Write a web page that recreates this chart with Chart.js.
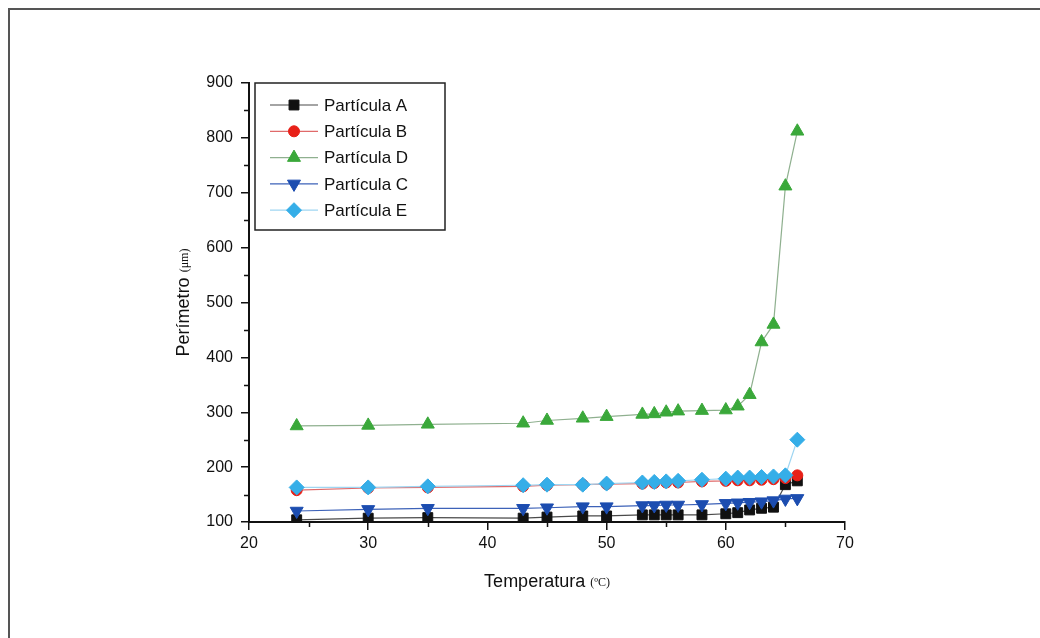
<!DOCTYPE html>
<html>
<head>
<meta charset="utf-8">
<script src="https://cdn.jsdelivr.net/npm/chart.js@4"></script>
<style>
  html, body { margin: 0; padding: 0; background: #fff; }
  #wrap { width: 1040px; height: 638px; }
</style>
</head>
<body>
<div id="wrap"><canvas id="chart" width="1040" height="638"></canvas></div>
<script>
// temperatures (ºC)
var temps = [24, 30, 35, 43, 45, 48, 50, 53, 54, 55, 56, 58, 60, 61, 62, 63, 64, 65, 66];

var particulaA = [104, 107, 108, 107, 109, 111, 111, 113, 113, 113, 113, 113, 115, 117, 122, 125, 127, 168, 175];
var particulaB = [158, 162, 163, 165, 167, 168, 169, 170, 171, 172, 172, 174, 175, 176, 176, 177, 178, 180, 185];
var particulaD = [275, 276, 278, 280, 285, 289, 292, 296, 297, 300, 302, 303, 304, 311, 332, 428, 460, 712, 812];
var particulaC = [120, 123, 125, 125, 126, 128, 128, 130, 130, 131, 131, 132, 134, 135, 136, 137, 139, 142, 143];
var particulaE = [163, 163, 165, 167, 168, 168, 170, 172, 173, 174, 175, 177, 179, 181, 181, 182, 183, 185, 250];

var yTicks = [100, 200, 300, 400, 500, 600, 700, 800, 900];
var xTicks = [20, 30, 40, 50, 60, 70];

function pts(vals) {
  return temps.map(function (t, i) { return { x: t, y: vals[i] }; });
}

var series = [
  { label: 'Partícula A', data: particulaA, line: '#4a4a4a', fill: '#111111', style: 'rect', r: 7, rot: 0 },
  { label: 'Partícula B', data: particulaB, line: '#e06a6a', fill: '#e82018', style: 'circle', r: 5.5, rot: 0 },
  { label: 'Partícula D', data: particulaD, line: '#8fb08f', fill: '#3aa83a', style: 'triangle', r: 7.5, rot: 0 },
  { label: 'Partícula C', data: particulaC, line: '#3d62b8', fill: '#1c4db0', style: 'triangle', r: 7.5, rot: 180 },
  { label: 'Partícula E', data: particulaE, line: '#9fd6f2', fill: '#35aee8', style: 'rectRot', r: 7.5, rot: 0 }
];

var FONT = '"Liberation Sans", Arial, sans-serif';

var extras = {
  id: 'extras',
  beforeDraw: function (chart) {
    var ctx = chart.ctx;
    ctx.save();
    ctx.fillStyle = '#fff';
    ctx.fillRect(0, 0, chart.width, chart.height);
    // outer frame (top and left only)
    ctx.strokeStyle = '#555';
    ctx.lineWidth = 2;
    ctx.beginPath();
    ctx.moveTo(9, chart.height);
    ctx.lineTo(9, 9);
    ctx.lineTo(chart.width, 9);
    ctx.stroke();
    ctx.restore();
  },
  afterDraw: function (chart) {
    var ctx = chart.ctx, x = chart.scales.x, y = chart.scales.y, a = chart.chartArea;
    ctx.save();
    ctx.strokeStyle = '#111';
    ctx.lineWidth = 1.5;
    // minor ticks
    ctx.beginPath();
    for (var v = 150; v < 900; v += 100) {
      var py = Math.round(y.getPixelForValue(v)) + 0.5;
      ctx.moveTo(a.left - 5, py); ctx.lineTo(a.left, py);
    }
    for (var u = 25; u < 70; u += 10) {
      var px = Math.round(x.getPixelForValue(u)) + 0.5;
      ctx.moveTo(px, a.bottom); ctx.lineTo(px, a.bottom + 5);
    }
    ctx.stroke();

    // axis titles with smaller unit text
    ctx.fillStyle = '#111';
    ctx.textBaseline = 'alphabetic';
    var main = '18px ' + FONT, small = '12px "Liberation Serif", serif';
    ctx.font = main; var w1 = ctx.measureText('Temperatura ').width;
    ctx.font = small; var w2 = ctx.measureText('(ºC)').width;
    var cx = (a.left + a.right) / 2, sx = cx - (w1 + w2) / 2;
    ctx.font = main; ctx.textAlign = 'left'; ctx.fillText('Temperatura ', sx, 587);
    ctx.font = small; ctx.fillText('(ºC)', sx + w1, 586);

    ctx.save();
    ctx.translate(189, (a.top + a.bottom) / 2);
    ctx.rotate(-Math.PI / 2);
    ctx.font = main; w1 = ctx.measureText('Perímetro ').width;
    ctx.font = small; w2 = ctx.measureText('(μm)').width;
    sx = -(w1 + w2) / 2;
    ctx.font = main; ctx.fillText('Perímetro ', sx, 0);
    ctx.font = small; ctx.fillText('(μm)', sx + w1, -1);
    ctx.restore();

    // legend box inside plot
    var lx = a.left + 6, ly = a.top, lw = 190, lh = 147;
    ctx.lineWidth = 1.5;
    ctx.strokeStyle = '#222';
    ctx.fillStyle = '#fff';
    ctx.fillRect(lx, ly, lw, lh);
    ctx.strokeRect(lx, ly, lw, lh);
    series.forEach(function (s, i) {
      var yy = ly + 22 + i * 26.3;
      ctx.strokeStyle = s.line; ctx.lineWidth = 1.2;
      ctx.beginPath(); ctx.moveTo(lx + 15, yy); ctx.lineTo(lx + 63, yy); ctx.stroke();
      ctx.fillStyle = s.fill; ctx.strokeStyle = s.fill; ctx.lineWidth = 1;
      Chart.helpers.drawPoint(ctx, { pointStyle: s.style, radius: s.r, rotation: s.rot, borderWidth: 1 }, lx + 39, yy);
      ctx.fillStyle = '#111';
      ctx.font = '17px ' + FONT; ctx.textAlign = 'left'; ctx.textBaseline = 'middle';
      ctx.fillText(s.label, lx + 69, yy + 1);
    });
    ctx.restore();
  }
};

new Chart(document.getElementById('chart').getContext('2d'), {
  type: 'line',
  data: {
    datasets: series.map(function (s, i) {
      return {
        label: s.label,
        data: pts(s.data),
        order: series.length - i,
        borderColor: s.line,
        borderWidth: 1.2,
        backgroundColor: s.fill,
        pointBackgroundColor: s.fill,
        pointBorderColor: s.fill,
        pointBorderWidth: 1,
        pointStyle: s.style,
        pointRotation: s.rot,
        pointRadius: s.r,
        tension: 0
      };
    })
  },
  options: {
    responsive: false,
    animation: false,
    layout: { padding: { left: 0, top: 83, right: 195, bottom: 0 } },
    plugins: { legend: { display: false }, tooltip: { enabled: false } },
    scales: {
      x: {
        type: 'linear', min: 20, max: 70,
        afterBuildTicks: function (sc) { sc.ticks = xTicks.map(function (v) { return { value: v }; }); },
        afterFit: function (sc) { sc.height = 116; },
        grid: { drawOnChartArea: false, tickLength: 8, color: '#111', lineWidth: 1.5 },
        border: { color: '#111', width: 2 },
        ticks: { color: '#111', font: { family: FONT, size: 16 }, padding: 4, maxRotation: 0 }
      },
      y: {
        type: 'linear', min: 100, max: 900,
        afterBuildTicks: function (sc) { sc.ticks = yTicks.map(function (v) { return { value: v }; }); },
        afterFit: function (sc) { sc.width = 249; },
        grid: { drawOnChartArea: false, tickLength: 8, color: '#111', lineWidth: 1.5 },
        border: { color: '#111', width: 2 },
        ticks: { color: '#111', font: { family: FONT, size: 16 }, padding: 8 }
      }
    }
  },
  plugins: [extras]
});
</script>
</body>
</html>
